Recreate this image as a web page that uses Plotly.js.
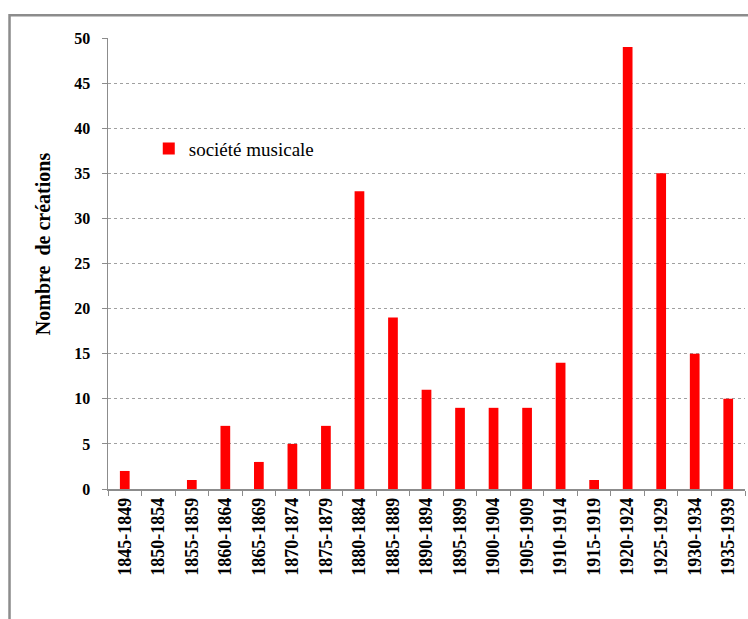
<!DOCTYPE html>
<html>
<head>
<meta charset="utf-8">
<script src="https://cdn.plot.ly/plotly-3.0.1.min.js"></script>
<style>
  html, body { margin: 0; padding: 0; background: #fff; overflow: hidden; }
  #chart { width: 748px; height: 619px; }
</style>
</head>
<body>
<div id="chart"></div>
<script>
// Five-year periods and number of musical societies created in each
const periods = [
  '1845-1849', '1850-1854', '1855-1859', '1860-1864', '1865-1869',
  '1870-1874', '1875-1879', '1880-1884', '1885-1889', '1890-1894',
  '1895-1899', '1900-1904', '1905-1909', '1910-1914', '1915-1919',
  '1920-1924', '1925-1929', '1930-1934', '1935-1939'
];
const creations = [2, 0, 1, 7, 3, 5, 7, 33, 19, 11, 9, 9, 9, 14, 1, 49, 35, 15, 10];
const seriesName = 'société musicale';
const yTitle = 'Nombre\u00a0 de créations';
const yTicks = [0, 5, 10, 15, 20, 25, 30, 35, 40, 45, 50];

const serif = 'Liberation Serif';
const axisGrey = '#8c8c8c';

const trace = {
  type: 'bar',
  x: periods,
  y: creations,
  name: seriesName,
  showlegend: true,
  marker: { color: '#ff0000', line: { width: 0 } },
  hoverinfo: 'x+y'
};

const layout = {
  width: 748,
  height: 619,
  margin: { l: 108, r: 3, t: 38, b: 130 },
  paper_bgcolor: '#ffffff',
  plot_bgcolor: '#ffffff',
  bargap: 0.71,
  showlegend: true,
  legend: {
    x: 0.064, xanchor: 'left',
    y: 0.797, yanchor: 'top',
    bgcolor: 'rgba(0,0,0,0)',
    font: { family: serif, size: 19, color: '#000' },
    itemwidth: 30
  },
  xaxis: {
    type: 'category',
    tickangle: -90,
    tickfont: { family: serif, size: 18, color: '#000', weight: 'bold' },
    showline: true, linecolor: axisGrey, linewidth: 1.5,
    ticks: 'outside', tickson: 'boundaries', ticklen: 5, tickcolor: axisGrey,
    showgrid: false, zeroline: false,
    automargin: false
  },
  yaxis: {
    range: [0, 50],
    tickvals: yTicks,
    tickfont: { family: serif, size: 16, color: '#000', weight: 'bold' },
    showline: true, linecolor: axisGrey, linewidth: 1.5,
    ticks: 'outside', ticklen: 5, tickcolor: axisGrey,
    ticklabelstandoff: 8,
    showgrid: true, gridcolor: '#a0a0a0', griddash: 'dot', gridwidth: 1,
    zeroline: false,
    automargin: false
  },
  // vertical axis caption, placed a little above the plot's mid-height
  annotations: [{
    text: yTitle,
    xref: 'paper', yref: 'paper',
    x: -0.102, y: 0.543,
    xanchor: 'center', yanchor: 'middle',
    textangle: -90, showarrow: false,
    font: { family: serif, size: 20, color: '#000', weight: 'bold' }
  }],
  // grey chart-area frame
  shapes: [{
    type: 'rect', xref: 'paper', yref: 'paper', layer: 'below',
    x0: -0.1546, x1: 2, y0: -1, y1: 1.0505,
    line: { color: axisGrey, width: 2.5 },
    fillcolor: 'rgba(0,0,0,0)'
  }]
};

Plotly.newPlot('chart', [trace], layout, { displayModeBar: false, staticPlot: true });
</script>
</body>
</html>
